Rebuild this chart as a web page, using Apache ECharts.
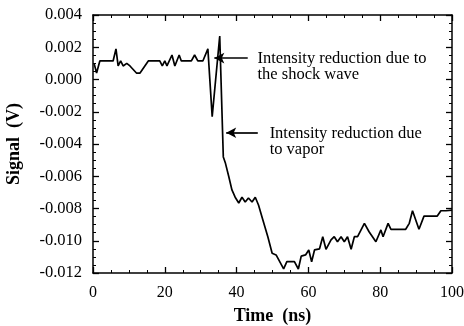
<!DOCTYPE html>
<html><head><meta charset="utf-8">
<script src="https://cdn.jsdelivr.net/npm/echarts@6/dist/echarts.min.js"></script>
<style>html,body{margin:0;padding:0;background:#fff}#c{width:464px;height:326px}</style>
</head><body><div id="c"></div>
<script>
var timeNs = [0.3,1.0,1.9,5.6,6.4,7.0,7.7,8.4,9.4,10.3,12.1,13.1,15.4,18.6,19.3,20.0,20.6,22.0,22.8,24.0,24.6,27.4,28.3,29.2,30.6,32.0,33.2,35.3,36.3,36.9,37.8,38.7,39.6,40.6,41.5,42.4,43.3,44.3,45.2,46.1,47.3,48.7,49.9,51.0,53.1,54.0,56.1,57.2,58.0,59.2,60.1,60.9,61.7,63.1,64.0,64.9,66.3,67.2,68.1,69.1,70.0,70.9,71.9,72.8,73.7,75.6,76.9,78.8,80.2,80.8,82.2,83.0,87.1,88.1,89.0,90.8,92.2,95.9,96.9,98.3,100];
var signalV = [0.0010,0.0004,0.00115,0.00115,0.0019,0.00084,0.00115,0.00084,0.0010,0.00084,0.0004,0.0004,0.00115,0.00115,0.00084,0.00115,0.00084,0.00152,0.00084,0.00152,0.00115,0.00115,0.00152,0.00115,0.00115,0.0019,-0.0023,0.0027,-0.0048,-0.0052,-0.0060,-0.00685,-0.0073,-0.00766,-0.0073,-0.0076,-0.00735,-0.0076,-0.0073,-0.00778,-0.0087,-0.00975,-0.01078,-0.01088,-0.01175,-0.0113,-0.0113,-0.01175,-0.01095,-0.01088,-0.01057,-0.0113,-0.01057,-0.0105,-0.00975,-0.01053,-0.00995,-0.00975,-0.01006,-0.00975,-0.01006,-0.00975,-0.01053,-0.00975,-0.00975,-0.00892,-0.00944,-0.01006,-0.00933,-0.00975,-0.00892,-0.00929,-0.00929,-0.00892,-0.00814,-0.00929,-0.00847,-0.00847,-0.00814,-0.00814,-0.0081];
var xTicks = [0,20,40,60,80,100];
var yTicks = [-0.012,-0.010,-0.008,-0.006,-0.004,-0.002,0.000,0.002,0.004];
var xName = 'Time  (ns)';
var yName = 'Signal  (V)';
var note1 = ['Intensity reduction due to', 'the shock wave'];
var note2 = ['Intensity reduction due', 'to vapor'];
var arrow1 = {from:[43.1,0.00133], to:[33.8,0.00133]};
var arrow2 = {from:[45.9,-0.0033], to:[37.1,-0.0033]};
var note1Pos = [45.8, 0.00131];
var note2Pos = [49.2, -0.00333];

var F = 'Liberation Serif';
var chart = echarts.init(document.getElementById('c'));
var data = timeNs.map(function(t,i){return [t, signalV[i]];});
function axisLine(){ return {show:true, onZero:false, lineStyle:{color:'#000', width:1.5}}; }
function xa(pos, labels){
  return {type:'value', position:pos, min:0, max:100, interval:20,
    axisLine:axisLine(), splitLine:{show:false},
    axisTick:{show:true, inside:true, length:6, lineStyle:{color:'#000', width:1.3}},
    minorTick:{show:true, splitNumber:4, length:3, lineStyle:{color:'#000', width:1}},
    axisLabel:{show:labels, color:'#000', fontFamily:F, fontSize:16, margin:12},
    name: labels ? xName : '', nameLocation:'middle', nameGap:34,
    nameTextStyle:{color:'#000', fontFamily:F, fontSize:18, fontWeight:'bold'}};
}
function ya(pos, labels){
  return {type:'value', position:pos, min:-0.012, max:0.004, interval:0.002,
    axisLine:axisLine(), splitLine:{show:false},
    axisTick:{show:true, inside:true, length:6, lineStyle:{color:'#000', width:1.3}},
    minorTick:{show:true, splitNumber:4, length:3, lineStyle:{color:'#000', width:1}},
    axisLabel:{show:labels, color:'#000', fontFamily:F, fontSize:16.5, margin:11,
      formatter:function(v){var r=Math.round(v*1000)/1000; return (r<0?'-':'')+Math.abs(r).toFixed(3);}},
    name: labels ? yName : '', nameLocation:'middle', nameGap:70, nameRotate:90,
    nameTextStyle:{color:'#000', fontFamily:F, fontSize:18, fontWeight:'bold'}};
}
chart.setOption({
  animation:false,
  backgroundColor:'#fff',
  grid:{left:93, right:12, top:15, bottom:53, containLabel:false, outerBoundsMode:'none'},
  xAxis:[xa('bottom', true), xa('top', false)],
  yAxis:[ya('left', true), ya('right', false)],
  series:[{type:'line', data:data, symbol:'none', lineStyle:{color:'#000', width:1.7},
    markLine:{silent:true, symbol:['none','arrow'], symbolSize:[8,10], label:{show:false},
      lineStyle:{color:'#000', width:1.7, type:'solid'},
      data:[[{coord:arrow1.from},{coord:arrow1.to}],[{coord:arrow2.from},{coord:arrow2.to}]]}}]
});
function place(){
  var p1 = chart.convertToPixel({gridIndex:0}, note1Pos);
  var p2 = chart.convertToPixel({gridIndex:0}, note2Pos);
  function txt(p, lines){
    return lines.map(function(s,i){
      return {type:'text', x:p[0], y:p[1]+i*16, style:{text:s, fill:'#000', font:'16.5px "Liberation Serif"', textVerticalAlign:'middle', textAlign:'left'}};
    });
  }
  chart.setOption({graphic:txt(p1,note1).concat(txt(p2,note2))});
}
place();
</script></body></html>
